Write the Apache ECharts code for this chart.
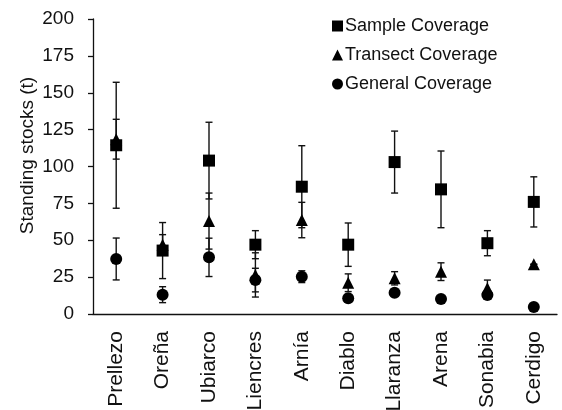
<!DOCTYPE html>
<html>
<head>
<meta charset="utf-8">
<script src="https://cdn.jsdelivr.net/npm/echarts@6/dist/echarts.min.js"></script>
<style>
html,body{margin:0;padding:0;background:#fff;}
#chart{width:562px;height:410px;}
</style>
</head>
<body>
<div id="chart"></div>
<script>
// ---- data ----
var categories = ['Prellezo','Oreña','Ubiarco','Liencres','Arnía','Diablo','Llaranza','Arena','Sonabia','Cerdigo'];
var yTicks = [0,25,50,75,100,125,150,175,200];

var sampleMean = [114.4, 43, 104, 47, 86.3, 47, 103, 84.5, 48, 76];
var sampleErr  = [42.7, 19, 26, 9.5, 27.8, 14.7, 21, 26, 8.5, 17];

var transectMean = [118.5, 47, 63, 26.5, 63.7, 21.2, 24.2, 28.7, 17.5, 33.7];
var transectErr  = [13.5, 6.8, 19, 15, 12, 6, 4.5, 6, 5.5, 0];

var generalMean = [37.3, 13.1, 38.4, 23, 25.3, 10.6, 14.4, 10.2, 12.9, 4.7];
var generalErr  = [14.2, 5.4, 13, 8, 4, 2, 2, 2, 2, 0];

var seriesNames = ['Sample Coverage','Transect Coverage','General Coverage'];

// ---- build ----
function errData(mean, err){
  return mean.map(function(m,i){ return [i, m-err[i], m+err[i]]; });
}
var INK = '#111';
function errSeries(mean, err){
  return {
    type:'custom',
    data: errData(mean, err),
    encode:{x:0, y:[1,2]},
    z: 1,
    silent:true,
    renderItem:function(params, api){
      var x = api.value(0), lo = api.value(1), hi = api.value(2);
      var a = api.coord([x, hi]), b = api.coord([x, lo]);
      var w = 3.5;
      var st = {stroke:INK, lineWidth:1.4};
      return {type:'group', children:[
        {type:'line', shape:{x1:a[0], y1:a[1], x2:b[0], y2:b[1]}, style:st},
        {type:'line', shape:{x1:a[0]-w, y1:a[1], x2:a[0]+w, y2:a[1]}, style:st},
        {type:'line', shape:{x1:b[0]-w, y1:b[1], x2:b[0]+w, y2:b[1]}, style:st}
      ]};
    }
  };
}
function markSeries(name, mean, symbol, size){
  return {
    name:name, type:'scatter', data:mean, symbol:symbol, symbolSize:size,
    itemStyle:{color:'#000', opacity:1}, z:3, silent:true
  };
}

var chart = echarts.init(document.getElementById('chart'), null, {renderer:'canvas'});
var font = 'Liberation Sans, Arial, sans-serif';
chart.setOption({
  animation:false,
  textStyle:{fontFamily:font},
  grid:{left:93, right:5, top:19, bottom:96, containLabel:false, outerBoundsMode:'none'},
  legend:{
    data:[{name:seriesNames[0], icon:'rect'},{name:seriesNames[1], icon:'triangle'},{name:seriesNames[2], icon:'circle'}],
    orient:'vertical', left:327, top:12, itemWidth:11, itemHeight:11, itemGap:11,
    itemStyle:{opacity:1, color:'#000'},
    textStyle:{fontSize:18, color:INK, fontFamily:font, padding:[0,0,0,-3]},
    selectedMode:false
  },
  xAxis:{
    type:'category', data:categories, boundaryGap:true,
    axisLine:{lineStyle:{color:INK, width:1.3}},
    axisTick:{alignWithLabel:true, length:5, lineStyle:{color:INK, width:1.3}},
    axisLabel:{rotate:90, fontSize:21, color:INK, margin:17, fontFamily:font, interval:0}
  },
  yAxis:{
    type:'value', min:yTicks[0], max:yTicks[yTicks.length-1], interval:yTicks[1]-yTicks[0],
    name:'Standing stocks (t)', nameLocation:'middle', nameGap:56, nameRotate:90,
    nameMoveOverlap:false,
    nameTextStyle:{fontSize:19, color:INK, fontFamily:font, padding:[0,0,0,22]},
    splitLine:{show:false},
    axisLine:{show:true, lineStyle:{color:INK, width:1.3}},
    axisTick:{show:true, length:5, lineStyle:{color:INK, width:1.3}},
    axisLabel:{fontSize:19, color:INK, margin:19, fontFamily:font}
  },
  series:[
    errSeries(sampleMean, sampleErr),
    errSeries(transectMean, transectErr),
    errSeries(generalMean, generalErr),
    markSeries(seriesNames[0], sampleMean, 'rect', 12),
    markSeries(seriesNames[1], transectMean, 'triangle', 12),
    markSeries(seriesNames[2], generalMean, 'circle', 12)
  ]
});
</script>
</body>
</html>
